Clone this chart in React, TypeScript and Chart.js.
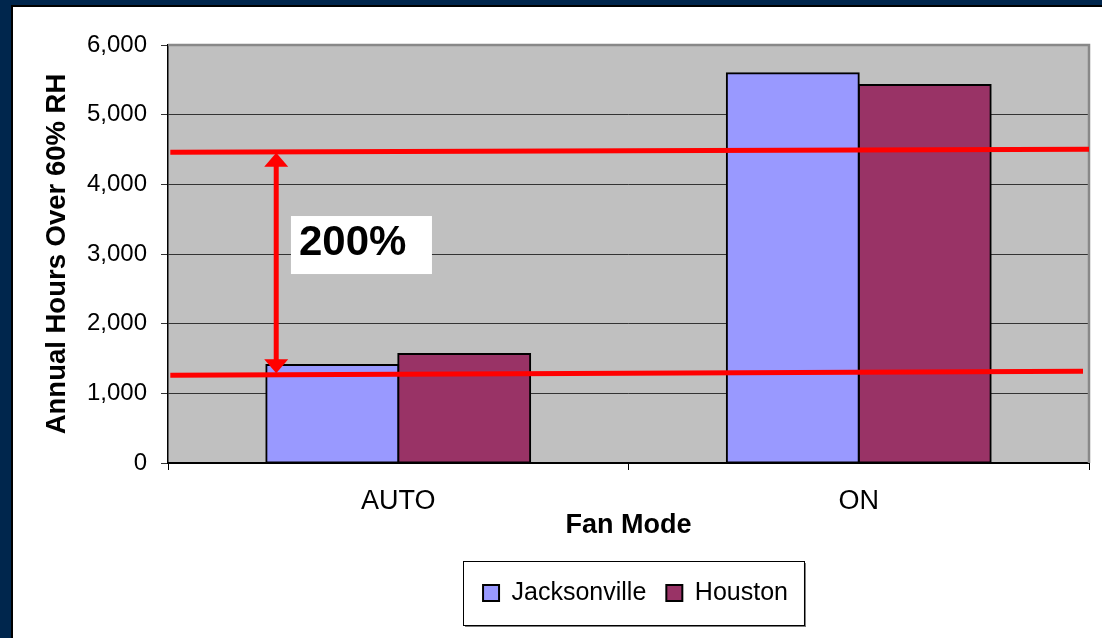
import React, { useEffect, useRef } from "react";
import { Chart, registerables } from "chart.js";

Chart.register(...registerables);

const FONT = '"Liberation Sans", Arial, Helvetica, sans-serif';

// Categories and series
const fanModes = ["AUTO", "ON"];
const seriesNames = ["Jacksonville", "Houston"];
const jacksonvilleHours = [1405, 5595];
const houstonHours = [1565, 5425];

// Value axis
const yMin = 0;
const yMax = 6000;
const yStep = 1000;

// Red reference lines (x in category units, y in hours)
const upperLineX = [-0.495, 1.5];
const upperLineY = [4460, 4505];
const lowerLineX = [-0.495, 1.487];
const lowerLineY = [1260, 1318];

// Double-headed arrow between the reference lines
const arrowX = -0.265;
const arrowY = [4455, 1290];

// Callout text and its top-left anchor
const calloutText = "200%";
const calloutAnchor = [-0.233, 3545];

const COLORS = {
  navy: "#00264d",
  plot: "#c0c0c0",
  jax: "#9999ff",
  hou: "#993366",
  red: "#ff0000",
};

const LEGEND_NUDGE = 7;

const plotBackground = {
  id: "plotBackground",
  beforeDraw(chart: any) {
    const { ctx, chartArea: a } = chart;
    ctx.save();
    ctx.fillStyle = COLORS.plot;
    ctx.fillRect(a.left, a.top, a.right - a.left, a.bottom - a.top);
    ctx.restore();
  },
};

// nudge the legend a little to the right of the plot centre
const legendShift = {
  id: "legendShift",
  afterLayout(chart: any) {
    const lg = chart.legend;
    if (!lg) return;
    lg.left += LEGEND_NUDGE;
    lg.right += LEGEND_NUDGE;
    (lg.legendHitBoxes || []).forEach((h: any) => {
      h.left += LEGEND_NUDGE;
    });
  },
};

const overlay = {
  id: "overlay",
  afterDraw(chart: any) {
    const { ctx, chartArea: a } = chart;
    const xs = chart.scales.x;
    const ys = chart.scales.y;

    ctx.save();
    // plot frame (top and right edges)
    ctx.strokeStyle = "#888888";
    ctx.lineWidth = 2.5;
    ctx.beginPath();
    ctx.moveTo(a.left, a.top);
    ctx.lineTo(a.right, a.top);
    ctx.lineTo(a.right, a.bottom);
    ctx.stroke();

    // reference lines
    ctx.strokeStyle = COLORS.red;
    ctx.lineWidth = 5;
    const seg = (xv: number[], yv: number[]) => {
      ctx.beginPath();
      ctx.moveTo(xs.getPixelForValue(xv[0]), ys.getPixelForValue(yv[0]));
      ctx.lineTo(xs.getPixelForValue(xv[1]), ys.getPixelForValue(yv[1]));
      ctx.stroke();
    };
    seg(upperLineX, upperLineY);
    seg(lowerLineX, lowerLineY);

    // arrow
    const ax = xs.getPixelForValue(arrowX);
    const yTop = ys.getPixelForValue(arrowY[0]);
    const yBot = ys.getPixelForValue(arrowY[1]);
    const headH = 14;
    const headW = 12;
    ctx.beginPath();
    ctx.moveTo(ax, yTop + headH - 1);
    ctx.lineTo(ax, yBot - headH + 1);
    ctx.stroke();
    ctx.fillStyle = COLORS.red;
    ctx.beginPath();
    ctx.moveTo(ax, yTop);
    ctx.lineTo(ax - headW, yTop + headH);
    ctx.lineTo(ax + headW, yTop + headH);
    ctx.closePath();
    ctx.fill();
    ctx.beginPath();
    ctx.moveTo(ax, yBot);
    ctx.lineTo(ax - headW, yBot - headH);
    ctx.lineTo(ax + headW, yBot - headH);
    ctx.closePath();
    ctx.fill();

    // callout
    const cx = xs.getPixelForValue(calloutAnchor[0]);
    const cy = ys.getPixelForValue(calloutAnchor[1]);
    ctx.fillStyle = "#ffffff";
    ctx.fillRect(cx, cy, 141, 58);
    ctx.fillStyle = "#000000";
    ctx.font = `bold 42px ${FONT}`;
    ctx.textAlign = "left";
    ctx.textBaseline = "middle";
    ctx.fillText(calloutText, cx + 8, cy + 27);

    // legend frame
    const lg = chart.legend;
    if (lg && lg.legendHitBoxes && lg.legendHitBoxes.length) {
      const hb = lg.legendHitBoxes;
      const l = Math.min(...hb.map((h: any) => h.left)) - 20;
      const r = Math.max(...hb.map((h: any) => h.left + h.width)) + 16;
      const midY = hb[0].top + hb[0].height / 2;
      const t = midY - 32;
      const h = 64;
      ctx.fillStyle = "#7a7a7a";
      ctx.fillRect(l + 2, t + h, r - l, 2);
      ctx.fillRect(r, t + 2, 2, h);
      ctx.strokeStyle = "#000000";
      ctx.lineWidth = 1;
      ctx.strokeRect(Math.round(l) + 0.5, Math.round(t) + 0.5, Math.round(r - l), h);
    }
    ctx.restore();
  },
};

function FanModeChart() {
  const ref = useRef<HTMLCanvasElement | null>(null);

  useEffect(() => {
    if (!ref.current) return;
    const chart = new Chart(ref.current, {
      type: "bar",
      data: {
        labels: fanModes,
        datasets: [
          {
            label: seriesNames[0],
            data: jacksonvilleHours,
            backgroundColor: COLORS.jax,
            borderColor: "#000000",
            borderWidth: 2,
            borderSkipped: false,
            inflateAmount: 1,
          },
          {
            label: seriesNames[1],
            data: houstonHours,
            backgroundColor: COLORS.hou,
            borderColor: "#000000",
            borderWidth: 2,
            borderSkipped: false,
            inflateAmount: 1,
          },
        ],
      },
      options: {
        responsive: false,
        animation: false,
        devicePixelRatio: 1,
        layout: { padding: { top: 38, right: 13, bottom: 22.5, left: 0 } },
        datasets: {
          bar: { categoryPercentage: 0.573, barPercentage: 1 },
        },
        scales: {
          x: {
            offset: true,
            grid: {
              display: true,
              offset: true,
              drawOnChartArea: false,
              drawTicks: true,
              tickLength: 7,
              color: "#000000",
            },
            border: { display: true, color: "#000000", width: 2 },
            ticks: {
              color: "#000000",
              font: { family: FONT, size: 27 },
              padding: 15.8,
            },
            title: {
              display: true,
              text: "Fan Mode",
              color: "#000000",
              font: { family: FONT, size: 27, weight: "bold" },
              padding: { top: 0, bottom: 18.3 },
            },
            afterFit(scale: any) {
              scale.height = 97.5;
            },
          },
          y: {
            min: yMin,
            max: yMax,
            grid: {
              color: "#333333",
              lineWidth: 1,
              drawTicks: true,
              tickLength: 7,
            },
            border: { display: true, color: "#000000", width: 1.5 },
            ticks: {
              stepSize: yStep,
              color: "#000000",
              font: { family: FONT, size: 24 },
              padding: 14,
              callback: (v: any) => Number(v).toLocaleString("en-US"),
            },
            title: {
              display: true,
              text: "Annual Hours Over 60% RH",
              color: "#000000",
              font: { family: FONT, size: 27.5, weight: "bold" },
              padding: { top: 27.5, bottom: 0 },
            },
            afterFit(scale: any) {
              scale.width = 155;
            },
          },
        },
        plugins: {
          legend: {
            position: "bottom",
            fullSize: false,
            labels: {
              color: "#000000",
              font: { family: FONT, size: 25 },
              boxWidth: 16,
              boxHeight: 16,
              padding: 20,
            },
          },
          tooltip: { enabled: false },
        },
      },
      plugins: [plotBackground, legendShift, overlay],
    } as any);
    return () => chart.destroy();
  }, []);

  return <canvas ref={ref} width={1089} height={631} style={{ display: "block" }} />;
}

export default function App() {
  return (
    <div
      style={{
        position: "fixed",
        left: 0,
        top: 0,
        width: 1102,
        height: 638,
        background: COLORS.navy,
        overflow: "hidden",
      }}
    >
      <div
        style={{
          position: "absolute",
          left: 11,
          top: 5,
          width: 1091,
          height: 633,
          background: "#000000",
        }}
      >
        <div
          style={{
            position: "absolute",
            left: 2,
            top: 2,
            width: 1089,
            height: 631,
            background: "#ffffff",
          }}
        >
          <FanModeChart />
        </div>
      </div>
    </div>
  );
}
